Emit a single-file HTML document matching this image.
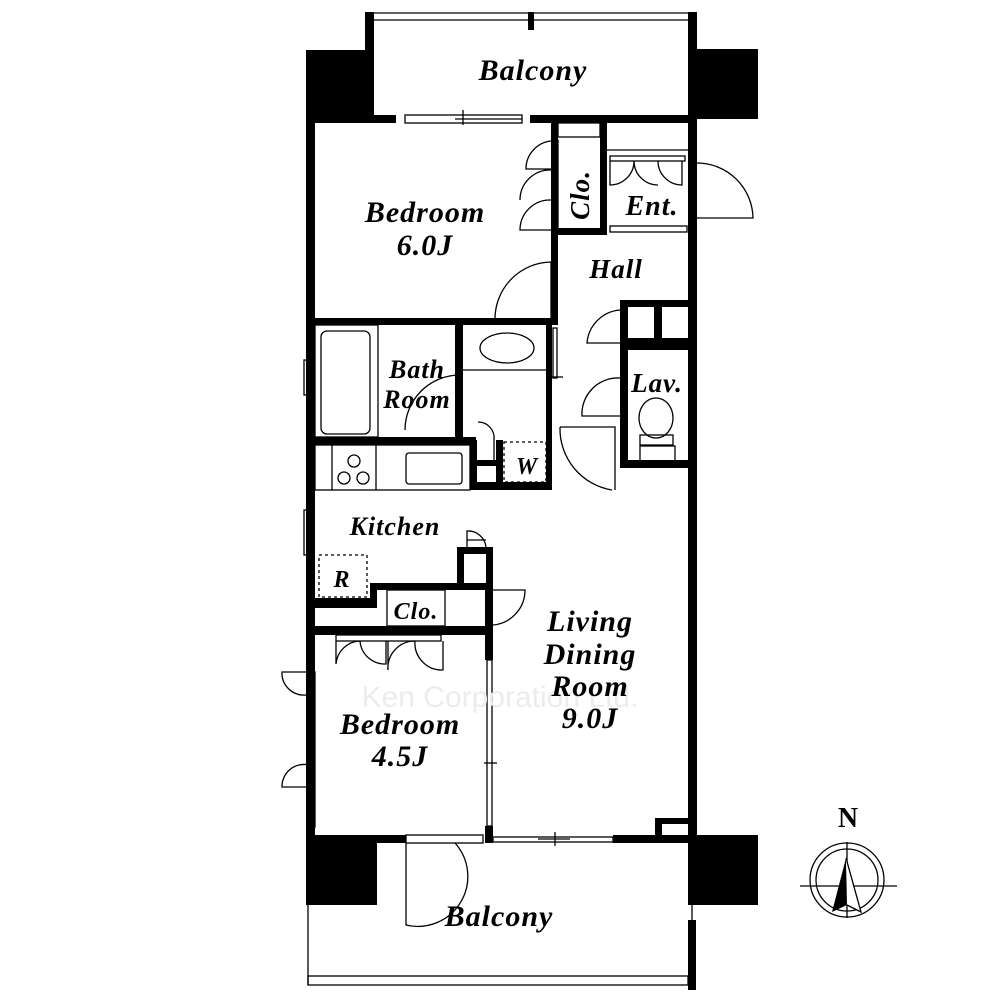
<!DOCTYPE html>
<html><head><meta charset="utf-8"><style>
html,body{margin:0;padding:0;background:#fff}
svg{display:block}
text{font-family:"Liberation Serif",serif;font-style:italic;font-weight:bold;fill:#000;letter-spacing:1px}
</style></head><body>
<svg width="1000" height="1000" viewBox="0 0 1000 1000" xmlns="http://www.w3.org/2000/svg">
<g fill="#000" stroke="none">
<rect x="306" y="50" width="68" height="72"/>
<rect x="688" y="49" width="70" height="70"/>
<rect x="306" y="835" width="71" height="70"/>
<rect x="688" y="835" width="70" height="70"/>
<rect x="365" y="12" width="9" height="110"/>
<rect x="688" y="12" width="9" height="110"/>
<rect x="528" y="12" width="6" height="18"/>
<rect x="306" y="115" width="9" height="730"/>
<rect x="688" y="115" width="9" height="730"/>
<rect x="306" y="115" width="90" height="8"/>
<rect x="530" y="115" width="167" height="8"/>
<rect x="551" y="123" width="7" height="200"/>
<rect x="306" y="318" width="252" height="7"/>
<rect x="600" y="123" width="7" height="112"/>
<rect x="558" y="228" width="49" height="7"/>
<rect x="620" y="300" width="77" height="7"/>
<rect x="620" y="300" width="8" height="168"/>
<rect x="654" y="300" width="8" height="43"/>
<rect x="620" y="338" width="77" height="12"/>
<rect x="620" y="460" width="77" height="8"/>
<rect x="455" y="325" width="8" height="115"/>
<rect x="306" y="437" width="170" height="8"/>
<rect x="546" y="325" width="6" height="160"/>
<rect x="470" y="440" width="7" height="50"/>
<rect x="470" y="482" width="82" height="8"/>
<rect x="496" y="440" width="7" height="50"/>
<rect x="470" y="460" width="33" height="6"/>
<rect x="306" y="598" width="71" height="10"/>
<rect x="370" y="583" width="7" height="25"/>
<rect x="370" y="583" width="123" height="7"/>
<rect x="457" y="547" width="36" height="7"/>
<rect x="457" y="547" width="7" height="43"/>
<rect x="486" y="547" width="7" height="45"/>
<rect x="306" y="626" width="187" height="9"/>
<rect x="485" y="590" width="8" height="70"/>
<rect x="485" y="826" width="8" height="17"/>
<rect x="306" y="835" width="100" height="8"/>
<rect x="613" y="835" width="84" height="8"/>
<rect x="655" y="818" width="35" height="20"/>
<rect x="688" y="920" width="8" height="70"/>
</g>
<g fill="#fff"><rect x="662" y="824" width="26" height="11"/></g>
<g fill="none" stroke="#000" stroke-width="1.3">
<line x1="374" y1="13" x2="688" y2="13"/><line x1="374" y1="20" x2="688" y2="20"/>
<rect x="405" y="115" width="117" height="8" fill="#fff"/>
<line x1="455" y1="119" x2="522" y2="119"/><line x1="463" y1="110" x2="463" y2="125"/>
<rect x="558" y="123" width="42" height="14"/>
<line x1="607" y1="150" x2="688" y2="150"/>
<rect x="610" y="156" width="75" height="5"/>
<path d="M610 161 V185 A24 24 0 0 0 634 161 M634 161 A24 24 0 0 0 658 185 M658 161 A24 24 0 0 0 682 185 V161"/>
<rect x="610" y="226" width="77" height="6"/>
<path d="M690 163 V220 M697 163 A56 56 0 0 1 753 218 H697"/>
<path d="M551 141 A28 28 0 0 0 526 169 H551 M551 170 A30 30 0 0 0 520 200 M551 200 A30 30 0 0 0 520 230 H551"/>
<rect x="552" y="140" width="6" height="90"/>
<path d="M551 262 A57 57 0 0 0 495 318 M551 262 V318"/>
<path d="M620 310 A36 36 0 0 0 587 343 H620 M620 378 A36 36 0 0 0 582 416 H620"/>
<path d="M560 427 H615 V490 M560 427 A62 62 0 0 0 612 490"/>
<rect x="553" y="328" width="4" height="50"/>
<line x1="548" y1="377" x2="563" y2="377"/>
<ellipse cx="656" cy="418" rx="17" ry="20"/>
<rect x="640" y="435" width="33" height="10"/>
<rect x="640" y="446" width="35" height="15"/>
<rect x="315" y="325" width="63" height="112"/>
<rect x="321" y="331" width="49" height="103" rx="6"/>
<path d="M460 375 A55 55 0 0 0 405 430"/>
<line x1="460" y1="375" x2="460" y2="437"/>
<line x1="463" y1="370" x2="546" y2="370"/>
<ellipse cx="507" cy="348" rx="27" ry="15"/>
<rect x="504" y="442" width="42" height="40" stroke-dasharray="3,3"/>
<path d="M478 422 A16 16 0 0 1 494 440 V460"/>
<rect x="304" y="360" width="5" height="35"/>
<rect x="315" y="445" width="155" height="45"/>
<line x1="332" y1="445" x2="332" y2="490"/><line x1="376" y1="445" x2="376" y2="490"/>
<rect x="406" y="453" width="56" height="31" rx="3"/>
<circle cx="354" cy="461" r="6"/><circle cx="344" cy="478" r="6"/><circle cx="363" cy="478" r="6"/>
<rect x="304" y="510" width="5" height="45"/>
<rect x="319" y="555" width="48" height="42" stroke-dasharray="3,3"/>
<path d="M467 547 V531 A18 18 0 0 1 486 547 M467 540 H486"/>
<rect x="387" y="590" width="58" height="36"/>
<path d="M493 590 H525 A35 35 0 0 1 493 625"/>
<rect x="336" y="635" width="105" height="6"/>
<path d="M336 641 V664 A25 25 0 0 1 360 641 M360 641 A25 25 0 0 0 386 664 V641 M388 641 V670 A27 27 0 0 1 415 641 M415 641 A27 27 0 0 0 443 670 V641"/>
<rect x="309" y="672" width="6" height="155"/>
<path d="M309 672 H282 A22 22 0 0 0 306 695 M309 765 A22 22 0 0 0 282 787 H309"/>
<rect x="487" y="660" width="5" height="166"/>
<line x1="484" y1="763" x2="497" y2="763"/>
<rect x="406" y="835" width="77" height="8"/>
<path d="M406 843 V925 A50 50 0 0 0 455 843"/>
<rect x="493" y="837" width="120" height="5"/>
<line x1="538" y1="839" x2="570" y2="839"/><line x1="555" y1="832" x2="555" y2="846"/>
<line x1="308" y1="905" x2="308" y2="985"/>
<line x1="692" y1="905" x2="692" y2="920"/>
<rect x="308" y="976" width="380" height="9"/>
<circle cx="847" cy="880" r="37"/>
<circle cx="847" cy="880" r="31"/>
<line x1="847" y1="842" x2="847" y2="918"/>
<line x1="800" y1="886" x2="897" y2="886"/>
</g>
<path d="M846 858 L832 912 L847 905 Z" fill="#000"/>
<path d="M846 858 L861 912 L847 905" fill="#fff" stroke="#000" stroke-width="1.3"/>
<text x="500" y="707" font-size="30" text-anchor="middle" style="font-family:'Liberation Sans',sans-serif;font-style:normal;font-weight:normal;fill:#ececec;letter-spacing:0">Ken Corporation Ltd.</text>
<g font-size="30" text-anchor="middle">
<text x="533" y="80">Balcony</text>
<text x="425" y="222">Bedroom</text>
<text x="425" y="255">6.0J</text>
<text x="616" y="278" font-size="27">Hall</text>
<text x="652" y="215" font-size="28">Ent.</text>
<text x="589" y="195" font-size="27" transform="rotate(-90 589 195)">Clo.</text>
<text x="417" y="378" font-size="26">Bath</text>
<text x="417" y="408" font-size="26">Room</text>
<text x="657" y="392" font-size="27">Lav.</text>
<text x="527" y="474" font-size="24">W</text>
<text x="395" y="535" font-size="26">Kitchen</text>
<text x="342" y="587" font-size="24">R</text>
<text x="416" y="619" font-size="24">Clo.</text>
<text x="590" y="631">Living</text>
<text x="590" y="664">Dining</text>
<text x="590" y="696">Room</text>
<text x="590" y="728">9.0J</text>
<text x="400" y="734">Bedroom</text>
<text x="400" y="766">4.5J</text>
<text x="499" y="926">Balcony</text>
<text x="848" y="827" font-size="28" style="font-style:normal;letter-spacing:0">N</text>
</g>
</svg>
</body></html>
